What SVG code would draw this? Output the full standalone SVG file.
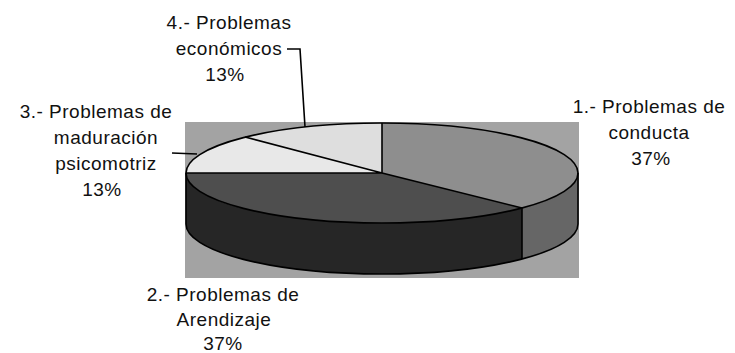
<svg xmlns="http://www.w3.org/2000/svg" width="735" height="353" viewBox="0 0 735 353">
<style>
  .lbl { font-family: "Liberation Sans", Arial, sans-serif; font-size: 19px; fill: #111; text-anchor: middle; letter-spacing: 0.5px; }
  .edge { stroke: #000; stroke-width: 1.6; fill: none; stroke-linejoin: round; }
  .lead { stroke: #000; stroke-width: 1.6; fill: none; }
</style>
<rect x="0" y="0" width="735" height="353" fill="#ffffff"/>
<g id="plot-area">
  <rect x="185" y="122" width="394" height="156" fill="#a3a3a3"/>
</g>
<g id="pie">
  <g id="side-2"><path d="M186,173 L186,224 A196,50 0 0 0 522,259 L522,208 A196,50 0 0 1 186,173 Z" fill="#262626"/></g>
  <g id="side-1"><path d="M522,208 L522,259 A196,50 0 0 0 578,224 L578,173 A196,50 0 0 1 522,208 Z" fill="#666666"/></g>
  <g id="slice-1"><path d="M382,173 L382,123 A196,50 0 0 1 522,208 Z" fill="#8e8e8e"/></g>
  <g id="slice-2"><path d="M382,173 L522,208 A196,50 0 0 1 186,173 Z" fill="#4e4e4e"/></g>
  <g id="slice-3"><path d="M382,173 L186,173 A196,50 0 0 1 245,137 Z" fill="#e8e8e8"/></g>
  <g id="slice-4"><path d="M382,173 L245,137 A196,50 0 0 1 382,123 Z" fill="#dedede"/></g>
  <g id="outlines">
    <ellipse class="edge" cx="382" cy="173" rx="196" ry="50"/>
    <path class="edge" d="M186,173 L186,224 A196,50 0 0 0 578,224 L578,173"/>
    <path class="edge" d="M522,208 L522,259"/>
    <path class="edge" d="M382,123 L382,173 L522,208 M382,173 L186,173 M382,173 L245,137"/>
  </g>
</g>
<g id="connectors">
  <path class="lead" d="M287,49 L300,49 L305,127"/>
  <path class="lead" d="M172,153 L197,154"/>
</g>
<g id="label-1">
  <text class="lbl" x="649" y="113">1.- Problemas de</text>
  <text class="lbl" x="649" y="139">conducta</text>
  <text class="lbl" x="651" y="165">37%</text>
</g>
<g id="label-2">
  <text class="lbl" x="223" y="301">2.- Problemas de</text>
  <text class="lbl" x="224" y="326">Arendizaje</text>
  <text class="lbl" x="223" y="350">37%</text>
</g>
<g id="label-3">
  <text class="lbl" x="96" y="118">3.- Problemas de</text>
  <text class="lbl" x="106" y="144">maduración</text>
  <text class="lbl" x="106" y="170">psicomotriz</text>
  <text class="lbl" x="102" y="196">13%</text>
</g>
<g id="label-4">
  <text class="lbl" x="229" y="29">4.- Problemas</text>
  <text class="lbl" x="229" y="55">económicos</text>
  <text class="lbl" x="225" y="81">13%</text>
</g>
</svg>
